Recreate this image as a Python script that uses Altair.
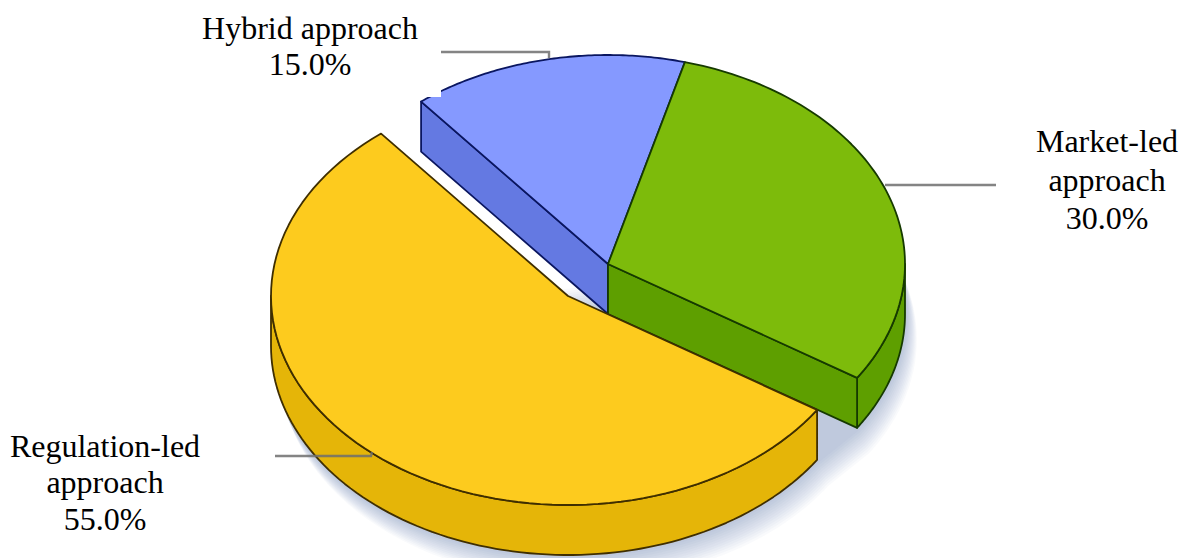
import numpy as np
import pandas as pd
import altair as alt

categories = ["Regulation-led approach", "Market-led approach", "Hybrid approach"]
shares = [55.0, 30.0, 15.0]
label_lines = [
    ["Regulation-led", "approach", "55.0%"],
    ["Market-led", "approach", "30.0%"],
    ["Hybrid approach", "15.0%"],
]
label_x = [105, 1107, 310]
label_y = [[447, 483, 520], [142, 181, 219], [29, 65]]
top_colors = ["#FDCB1E", "#7DBB0B", "#8599FF"]
side_colors = ["#E5B508", "#5E9F00", "#6479E2"]
line_colors = ["#3F2E00", "#163A00", "#0A1660"]

RX, RY, DEPTH = 297, 209, 50
START_TOP = 15.0           # degrees clockwise from top where the market-led slice begins
main_c = (608, 264)
yellow_c = (568, 296)

# slice angles, derived from the shares
g0 = START_TOP
g1 = g0 + shares[1] * 3.6
y0 = g1
y1 = y0 + shares[0] * 3.6
b0 = y1
b1 = b0 + shares[2] * 3.6


def arc(c, a0, a1, n=90, rx=RX, ry=RY, dy=0, dx=0):
    t = np.radians(np.linspace(a0, a1, n))
    return list(c[0] + dx + rx * np.sin(t)), list(c[1] + dy - ry * np.cos(t))


def poly(xs, ys):
    return pd.DataFrame({"x": xs, "y": ys, "i": range(len(xs))})


def wedge(c, a0, a1):
    xs, ys = arc(c, a0, a1)
    return poly([c[0]] + list(xs), [c[1]] + list(ys))


def rim(c, a0, a1):
    xs, ys = arc(c, a0, a1)
    return poly(list(xs) + list(xs)[::-1], list(ys) + [v + DEPTH for v in ys][::-1])


def plane(c, a):
    xs, ys = arc(c, a, a, n=1)
    return poly([c[0], xs[0], xs[0], c[0]], [c[1], ys[0], ys[0] + DEPTH, c[1] + DEPTH])


def silhouette(dx, dy, e):
    x1, y1_ = arc(main_c, 70, g1, dx=dx, dy=dy, rx=RX + e, ry=RY + e)
    x2, y2_ = arc(yellow_c, y0, 275, dx=dx, dy=dy, rx=RX + e, ry=RY + e)
    return poly(x1 + x2, y1_ + y2_)


X = alt.X("x:Q", axis=None, scale=alt.Scale(domain=[8, 1183], nice=False, zero=False))
Y = alt.Y("y:Q", axis=None, scale=alt.Scale(domain=[558, 8], nice=False, zero=False))


def shape(df, fill, stroke=None, sw=1.8, opacity=1.0):
    kw = dict(interpolate="linear-closed", fill=fill, opacity=opacity)
    if stroke:
        kw.update(stroke=stroke, strokeWidth=sw, strokeJoin="round")
    else:
        kw.update(strokeWidth=0, stroke=fill, strokeOpacity=0)
    return alt.Chart(df).mark_line(**kw).encode(x=X, y=Y, order="i:Q")


layers = []

# soft shadow under the pie
for k in range(1, 13):
    layers.append(shape(silhouette(0.9 * k, DEPTH + 2.1 * k, 1), "#5A6AA8", opacity=0.036))

# sides, back to front
layers.append(shape(plane(main_c, b0), side_colors[2], line_colors[2]))
layers.append(shape(rim(main_c, 90, g1), side_colors[1], line_colors[1]))
layers.append(shape(plane(main_c, g1), side_colors[1], line_colors[1]))
layers.append(shape(rim(yellow_c, y0, 270), side_colors[0], line_colors[0]))

# tops
layers.append(shape(wedge(main_c, b0, b1), top_colors[2], line_colors[2]))
layers.append(shape(wedge(main_c, g0, g1), top_colors[1], line_colors[1]))
layers.append(shape(wedge(yellow_c, y0, y1), top_colors[0], line_colors[0]))

# label background that clips the hybrid slice corner
patch = pd.DataFrame({"x": [412], "x2": [441], "y": [54], "y2": [97]})
layers.append(alt.Chart(patch).mark_rect(color="#ffffff").encode(x=X, x2="x2:Q", y=Y, y2="y2:Q"))

# leader lines
leaders = [
    ([275, 371, 372], [456, 456, 452]),
    ([885, 996], [185, 185]),
    ([441, 549, 549], [52, 52, 58]),
]
for lx, ly in leaders:
    df = pd.DataFrame({"x": lx, "y": ly, "i": range(len(lx))})
    layers.append(alt.Chart(df).mark_line(color="#6E6E6E", strokeWidth=2.4, opacity=0.85).encode(x=X, y=Y, order="i:Q"))

# labels
rows = []
for lines, xpos, ys in zip(label_lines, label_x, label_y):
    for line, yy in zip(lines, ys):
        rows.append({"x": xpos, "y": yy, "t": line})
layers.append(
    alt.Chart(pd.DataFrame(rows))
    .mark_text(font="Liberation Serif", fontSize=32, color="#000000", align="center", baseline="middle")
    .encode(x=X, y=Y, text="t:N")
)

chart = (
    alt.layer(*layers)
    .properties(width=1175, height=550, padding=0, autosize=alt.AutoSizeParams(type="none"), background="#ffffff")
    .configure_view(stroke=None)
)
chart.save("out.html", embed_options={"renderer": "svg", "actions": False})
